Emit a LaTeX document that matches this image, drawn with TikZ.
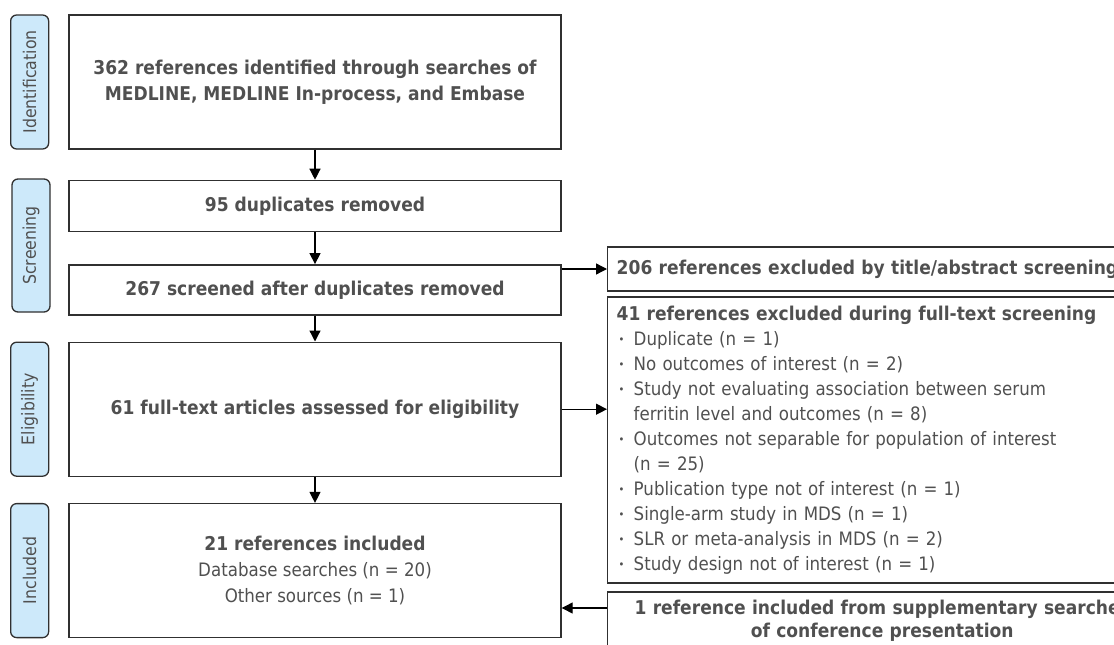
\documentclass[tikz,border=0pt]{standalone}
\usepackage{fontspec}
\setmainfont{DejaVu Sans}[FakeStretch=0.9]
\usetikzlibrary{positioning}
\usetikzlibrary{arrows.meta}

\definecolor{stagefill}{HTML}{CDE9FA}
\definecolor{textgray}{HTML}{505050}
\definecolor{linegray}{HTML}{303030}

\newcommand{\itembul}{\makebox[17pt][l]{\hspace{2pt}\raisebox{1.5pt}{\fontsize{11}{11}\selectfont\textbullet}}}
\newcommand{\itemcont}{\hspace*{17pt}}

\tikzset{
  stage/.style={draw=linegray, fill=stagefill, rounded corners=6pt, line width=1.3pt,
    minimum width=38pt, inner sep=0pt, text=textgray, font=\fontsize{17.5}{19}\selectfont},
  box/.style={draw=linegray, line width=1.4pt, minimum width=492pt, inner sep=0pt,
    text=textgray, align=center, font=\bfseries\fontsize{19}{26}\selectfont},
  sidebox/.style={draw=linegray, line width=1.4pt, anchor=west, inner xsep=9pt, inner ysep=0pt,
    text width=531pt, align=left, text=textgray, font=\fontsize{18.5}{25}\selectfont},
  arr/.style={-{Triangle[length=11pt,width=11pt]}, line width=1.3pt, black},
}

\begin{document}
\begin{tikzpicture}[x=1pt,y=-1pt]
        \useasboundingbox (0,0) rectangle (1114,645);
        \clip (0,0) rectangle (1114,645);

        % Nodes
        \node[box, minimum height=134pt] at (315,82) (ident) {362 references identified through searches of\\MEDLINE, MEDLINE In-process, and Embase};
        \node[box, minimum height=51pt, below=30pt of ident]  (dup)  {95 duplicates removed};
        \node[box, minimum height=50pt, below=32pt of dup]    (scr)  {267 screened after duplicates removed};
        \node[box, minimum height=134pt, below=26pt of scr]   (elig) {61 full-text articles assessed for eligibility};
        \node[box, minimum height=134pt, below=26pt of elig]  (incl) {21 references included\\\textmd{\fontsize{18.5}{25}\selectfont Database searches (n = 20)}\\\textmd{\fontsize{18.5}{25}\selectfont Other sources (n = 1)}};

        \node[stage, minimum height=134pt, left=19pt of ident] (s1) {\rotatebox{90}{Identification}};
        \node[stage, minimum height=133pt] at (31,245.5)       (s2) {\rotatebox{90}{Screening}};
        \node[stage, minimum height=134pt, left=19pt of elig]  (s3) {\rotatebox{90}{Eligibility}};
        \node[stage, minimum height=134pt, left=19pt of incl]  (s4) {\rotatebox{90}{Included}};

        \node[sidebox, minimum height=44pt, font=\bfseries\fontsize{19}{25}\selectfont] at (607,269) (excl1) {206 references excluded by title/abstract screening};
        \node[sidebox, minimum height=286pt] at (607,440) (excl2) {{\bfseries\fontsize{19}{25}\selectfont 41 references excluded during full-text screening}\\
          \itembul Duplicate (n = 1)\\
          \itembul No outcomes of interest (n = 2)\\
          \itembul Study not evaluating association between serum\\
          \itemcont ferritin level and outcomes (n = 8)\\
          \itembul Outcomes not separable for population of interest\\
          \itemcont (n = 25)\\
          \itembul Publication type not of interest (n = 1)\\
          \itembul Single-arm study in MDS (n = 1)\\
          \itembul SLR or meta-analysis in MDS (n = 2)\\
          \itembul Study design not of interest (n = 1)};
        \node[sidebox, minimum height=58pt, align=center, font=\bfseries\fontsize{19}{23}\selectfont] at (607,621) (supp) {1 reference included from supplementary searches\\of conference presentation};

        % Edges
        \draw[arr] (ident) -- (dup);
        \draw[arr] (dup)   -- (scr);
        \draw[arr] (scr)   -- (elig);
        \draw[arr] (elig)  -- (incl);
        \draw[arr] (scr.east |- excl1.west) -- (excl1.west);
        \draw[arr] (elig.east) -- (elig.east -| excl2.west);
        \draw[arr] ([yshift=13pt]supp.west) -- ([yshift=13pt]supp.west -| incl.east);
\end{tikzpicture}
\end{document}
